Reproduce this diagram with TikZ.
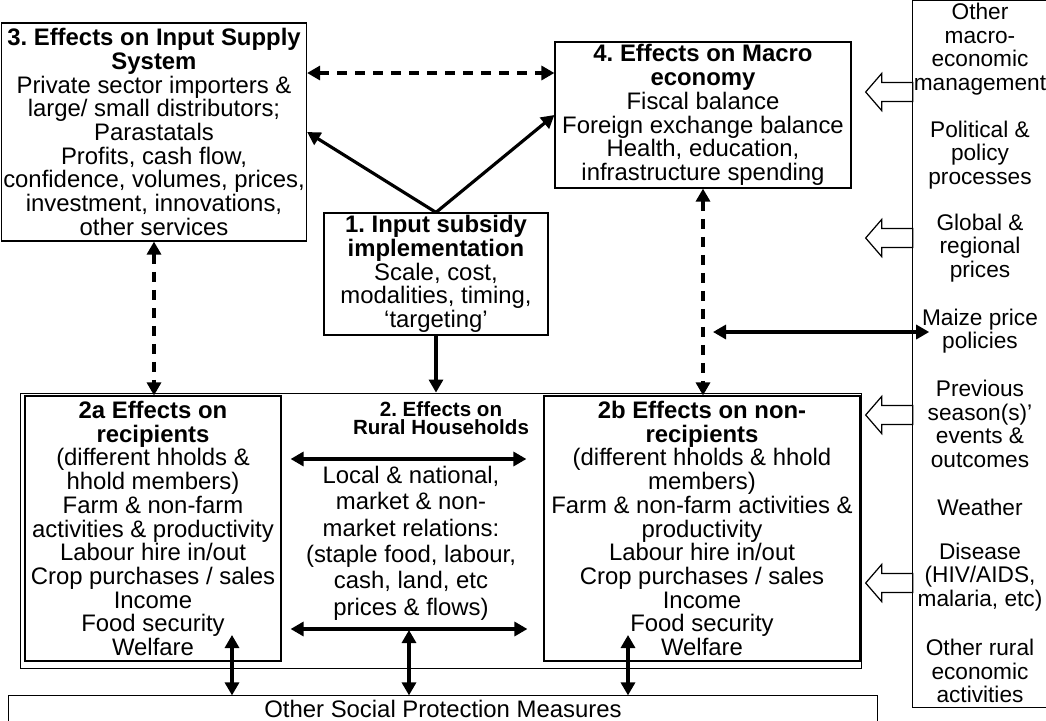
\documentclass[tikz,border=0pt]{standalone}
\usepackage{fontspec}
\setmainfont{Liberation Sans}
\usetikzlibrary{arrows.meta}
\frenchspacing

% hollow block arrow pointing left, starting on the outside column
\newcommand{\hollowarrow}[1]{%
  \draw[hollow] (#1) ++(0,9.5) -- ++(-31,0) -- ++(0,9) -- ++(-16,-18.5)
    -- ++(16,-18.5) -- ++(0,9) -- ++(31,0) -- cycle;}

\begin{document}
\begin{tikzpicture}[
    x=0.02cm, y=-0.02cm,
    box/.style={draw, line width=0.7pt, align=center, inner sep=1pt,
                font=\fontsize{13.6}{13.5}\selectfont},
    sidetext/.style={align=center, inner sep=0pt, font=\fontsize{12.9}{13.5}\selectfont},
    link/.style={line width=1.8pt,
                 {Triangle[length=0.26cm,width=0.28cm]}-{Triangle[length=0.26cm,width=0.28cm]}},
    onelink/.style={line width=1.8pt, -{Triangle[length=0.26cm,width=0.28cm]}},
    dashlink/.style={link, dash pattern=on 0.2cm off 0.16cm},
    hollow/.style={line width=0.7pt, fill=white}
]
    \useasboundingbox[fill=white] (0,0) rectangle (1046,721);

    % Main boxes
    \node[box, minimum width=6.08cm, minimum height=4.36cm] (box3) at (154,132)
        {\textbf{3. Effects on Input Supply}\\ \textbf{System}\\ Private sector importers \&\\
         large/ small distributors;\\ Parastatals\\ Profits, cash flow,\\
         confidence, volumes, prices,\\ investment, innovations,\\ other services};
    \node[box, minimum width=5.92cm, minimum height=2.92cm] (box4) at (703,115)
        {\textbf{4. Effects on Macro}\\ \textbf{economy}\\ Fiscal balance\\
         Foreign exchange balance\\ Health, education,\\ infrastructure spending};
    \node[box, minimum width=4.48cm, minimum height=2.44cm] (box1) at (436,274)
        {\textbf{1. Input subsidy}\\ \textbf{implementation}\\ Scale, cost,\\
         modalities, timing,\\ ‘targeting’};

    % Rural households
    \node[draw, line width=0.5pt, minimum width=16.84cm, minimum height=5.5cm] (hh) at (441,530.5) {};
    \node[box, minimum width=5.12cm, minimum height=5.3cm] (box2a) at (153,528.5)
        {\textbf{2a Effects on}\\ \textbf{recipients}\\ (different hholds \&\\ hhold members)\\
         Farm \& non-farm\\ activities \& productivity\\ Labour hire in/out\\
         Crop purchases / sales\\ Income\\ Food security\\ Welfare};
    \node[box, minimum width=6.32cm, minimum height=5.3cm] (box2b) at (702,528.5)
        {\textbf{2b Effects on non-}\\ \textbf{recipients}\\ (different hholds \& hhold\\ members)\\
         Farm \& non-farm activities \&\\ productivity\\ Labour hire in/out\\
         Crop purchases / sales\\ Income\\ Food security\\ Welfare};
    \node[align=center, inner sep=0pt, font=\fontsize{11.7}{10.3}\selectfont\bfseries] (hhlabel) at (441,418)
        {2. Effects on\\ Rural Households};
    \node[align=center, inner sep=0pt, font=\fontsize{13.6}{15}\selectfont] (market) at (411,543)
        {Local \& national,\\ market \& non-\\ market relations:\\ (staple food, labour,\\
         cash, land, etc\\ prices \& flows)};

    % Other social protection
    \node[box, draw=none, inner sep=0pt, minimum width=17.36cm, minimum height=0.5cm] (social) at (443,708.5)
        {Other Social Protection Measures};
    \draw[line width=0.7pt] (social.south west) |- (social.north east) -- (social.south east);

    % Outside influences
    \node[inner sep=0pt, minimum width=2.66cm, minimum height=14.12cm] (ext) at (979.5,354) {};
    \draw[line width=0.7pt] (ext.north east) -- (ext.north west) -- (ext.south west) -- (ext.south east);
    \node[sidetext] (macro) at (980,49) {Other\\ macro-\\ economic\\ management};
    \node[sidetext] (political) at (980,155) {Political \&\\ policy\\ processes};
    \node[sidetext] (global) at (980,248) {Global \&\\ regional\\ prices};
    \node[sidetext] (maize) at (980,331) {Maize price\\ policies};
    \node[sidetext] (previous) at (980,424) {Previous\\ season(s)’\\ events \&\\ outcomes};
    \node[sidetext] (weather) at (980,507) {Weather};
    \node[sidetext] (disease) at (980,577) {Disease\\ (HIV/AIDS,\\ malaria, etc)};
    \node[sidetext] (otherrural) at (980,671) {Other rural\\ economic\\ activities};

    % Connections
    \draw[dashlink] (box3.east |- 0,73) -- (box4.west |- 0,73);
    \draw[onelink] (box1.north) -- (box3.east);
    \draw[onelink] (box1.north) -- (box4.west);
    \draw[onelink] (box1.south) -- (box1.south |- hh.north);
    \draw[dashlink] (box3.south) -- (box3.south |- box2a.north);
    \draw[dashlink] (box4.south) -- (box4.south |- box2b.north);

    \coordinate (mzend) at (713,332);
    \draw[link, shorten >=-0.15cm] (mzend) -- (maize.west |- mzend);

    \draw[link, shorten <=0.18cm, shorten >=0.34cm] (box2a.east |- 0,459) -- (box2b.west |- 0,459);
    \draw[link, shorten <=0.18cm, shorten >=0.32cm] (box2a.east |- 0,629) -- (box2b.west |- 0,629);

    \coordinate (upa) at (232,635);
    \coordinate (upm) at (409,630);
    \coordinate (upb) at (628,635);
    \foreach \p in {upa, upm, upb}
        \draw[link] (\p) -- (\p |- social.north);

    \hollowarrow{ext.west |- 0,92}
    \hollowarrow{ext.west |- 0,238}
    \hollowarrow{ext.west |- 0,415}
    \hollowarrow{ext.west |- 0,583}
\end{tikzpicture}
\end{document}
